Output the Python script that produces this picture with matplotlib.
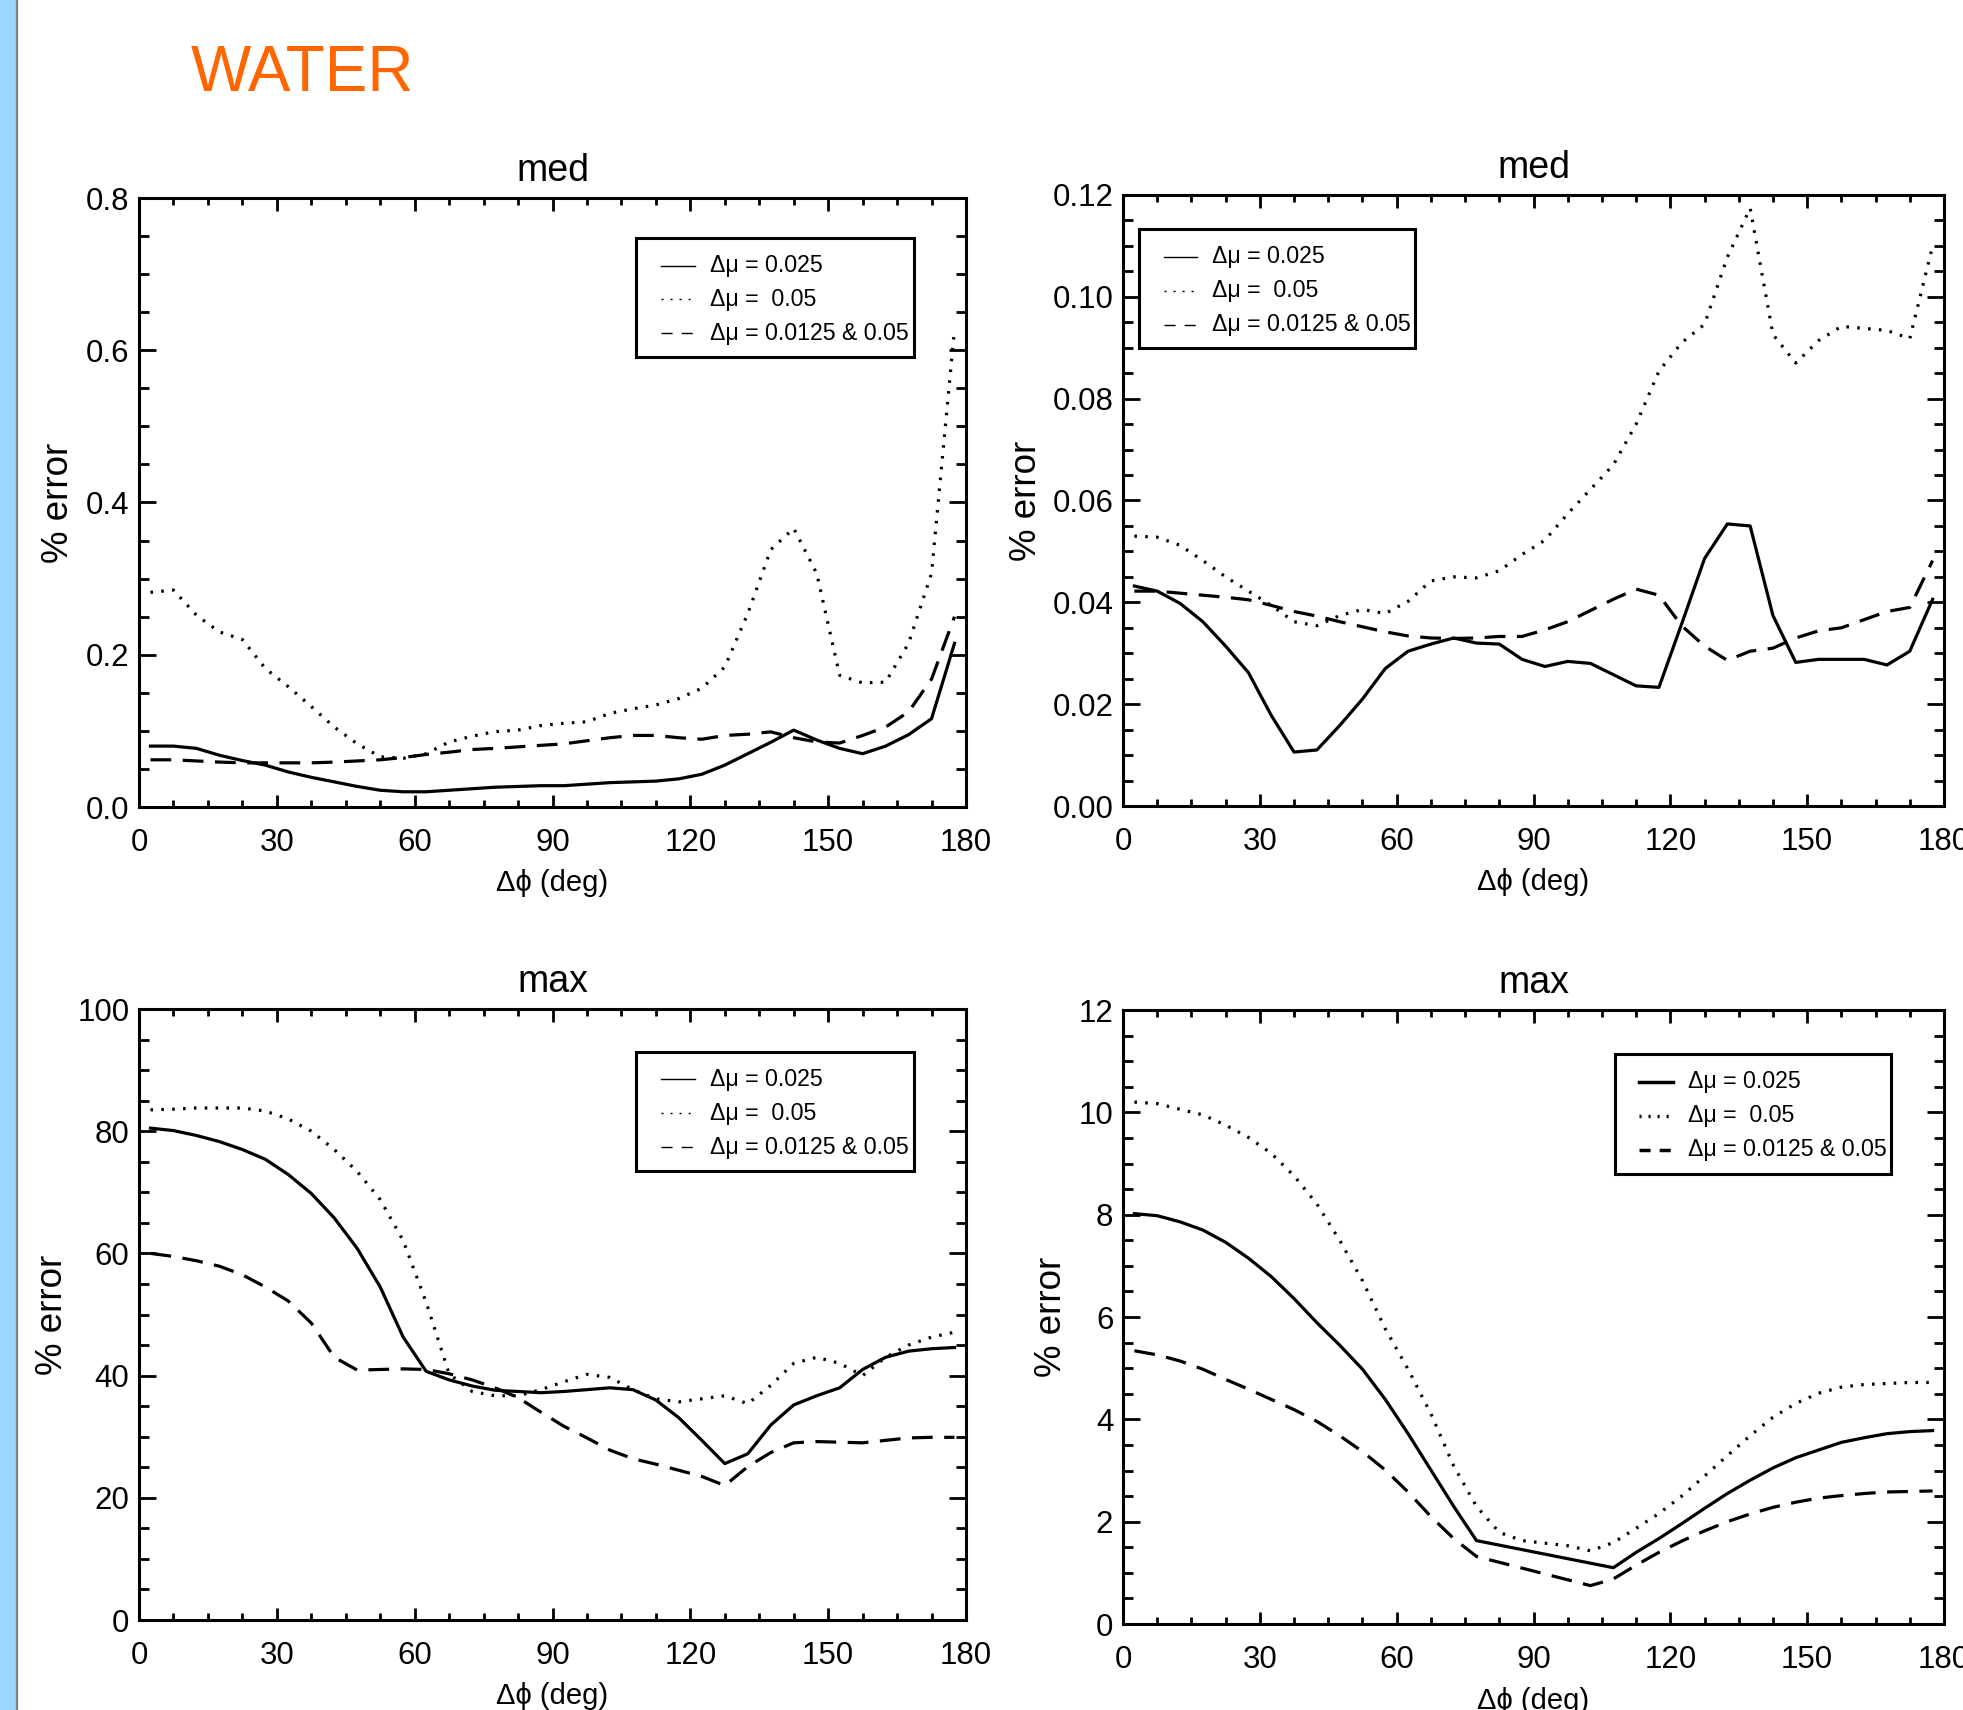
import matplotlib
matplotlib.use("Agg")
import matplotlib.pyplot as plt
from matplotlib.patches import Rectangle
from matplotlib.lines import Line2D
from matplotlib.ticker import MultipleLocator, FormatStrFormatter

SANS = ['Liberation Sans', 'DejaVu Sans']

# === DATA ===
# azimuth bin centres (deg)
phi = [2.5, 7.5, 12.5, 17.5, 22.5, 27.5, 32.5, 37.5, 42.5, 47.5, 52.5, 57.5,
       62.5, 67.5, 72.5, 77.5, 82.5, 87.5, 92.5, 97.5, 102.5, 107.5, 112.5, 117.5,
       122.5, 127.5, 132.5, 137.5, 142.5, 147.5, 152.5, 157.5, 162.5, 167.5, 172.5, 177.5]

#median error, left panel
med_a_025 = [0.080, 0.080, 0.077, 0.068, 0.061, 0.055, 0.046, 0.039, 0.033, 0.027, 0.022, 0.020,
             0.020, 0.022, 0.024, 0.026, 0.027, 0.028, 0.028, 0.030, 0.032, 0.033, 0.034, 0.037,
             0.043, 0.055, 0.070, 0.085, 0.101, 0.088, 0.077, 0.070, 0.080, 0.095, 0.116, 0.215]
med_a_05 = [0.282, 0.285, 0.252, 0.230, 0.220, 0.182, 0.158, 0.132, 0.105, 0.083, 0.066, 0.064,
            0.070, 0.0855, 0.093, 0.099, 0.101, 0.107, 0.110, 0.112, 0.123, 0.129, 0.134, 0.1425,
            0.156, 0.184, 0.254, 0.338, 0.366, 0.307, 0.173, 0.163, 0.164, 0.215, 0.307, 0.628]
med_a_mix = [0.062, 0.062, 0.0605, 0.059, 0.058, 0.058, 0.058, 0.058, 0.059, 0.0605, 0.062, 0.065,
             0.069, 0.072, 0.0755, 0.077, 0.079, 0.081, 0.083, 0.087, 0.091, 0.094, 0.094, 0.091,
             0.089, 0.094, 0.0956, 0.0987, 0.091, 0.0855, 0.084, 0.094, 0.105, 0.125, 0.168, 0.250]

#median error, right panel
med_b_025 = [0.0432, 0.0422, 0.0398, 0.0362, 0.0314, 0.0262, 0.0178, 0.0106, 0.0110, 0.0158, 0.0210, 0.0270,
             0.0304, 0.0318, 0.0330, 0.0320, 0.0318, 0.0288, 0.0274, 0.0284, 0.0280, 0.0258, 0.0236, 0.0233,
             0.0358, 0.0486, 0.0554, 0.0550, 0.0374, 0.0282, 0.0288, 0.0288, 0.0288, 0.0277, 0.0304, 0.0406]
med_b_05 = [0.0530, 0.0528, 0.0512, 0.0482, 0.0450, 0.0422, 0.0394, 0.0362, 0.0354, 0.0374, 0.0386, 0.0378,
            0.0402, 0.0442, 0.0450, 0.0448, 0.0462, 0.0494, 0.0522, 0.0574, 0.0622, 0.0670, 0.0750, 0.0854,
            0.0910, 0.0946, 0.1078, 0.1174, 0.0926, 0.0870, 0.0914, 0.0942, 0.0938, 0.0934, 0.0918, 0.1100]
med_b_mix = [0.0422, 0.0422, 0.0418, 0.0414, 0.0410, 0.0405, 0.0394, 0.0382, 0.0373, 0.0362, 0.0352, 0.0342,
             0.0334, 0.0330, 0.0329, 0.0330, 0.0333, 0.0333, 0.0346, 0.0362, 0.0384, 0.0406, 0.0426, 0.0414,
             0.0354, 0.0314, 0.0286, 0.0304, 0.0310, 0.0330, 0.0344, 0.0350, 0.0366, 0.0382, 0.0390, 0.0482]

#max error, left panel
max_a_025 = [80.5, 80.1, 79.3, 78.3, 77.0, 75.4, 72.9, 69.8, 65.8, 60.8, 54.5, 46.3,
             40.7, 39.3, 38.3, 37.6, 37.4, 37.2, 37.4, 37.7, 38.0, 37.7, 36.0, 33.1,
             29.4, 25.6, 27.2, 31.9, 35.2, 36.7, 38.0, 41.0, 43.0, 44.0, 44.4, 44.6]
max_a_05 = [83.5, 83.6, 83.8, 83.8, 83.8, 83.3, 82.0, 80.0, 77.0, 73.4, 68.8, 62.1,
            52.0, 40.3, 37.4, 36.7, 36.7, 37.7, 39.0, 40.2, 39.7, 37.7, 36.2, 35.7,
            36.2, 36.7, 35.4, 38.4, 42.0, 43.0, 42.0, 40.0, 43.0, 45.0, 46.3, 47.1]
max_a_mix = [60.0, 59.5, 58.8, 57.9, 56.5, 54.5, 52.2, 48.6, 43.0, 40.9, 41.0, 41.1,
             41.0, 40.3, 39.3, 38.0, 36.4, 34.0, 31.7, 29.8, 27.8, 26.4, 25.5, 24.5,
             23.5, 22.0, 25.1, 27.4, 29.0, 29.2, 29.1, 29.0, 29.4, 29.8, 29.9, 29.9]

#max error, right panel (solid and dashed have no bins in the middle)
phi_b_025 = [2.5, 7.5, 12.5, 17.5, 22.5, 27.5, 32.5, 37.5, 42.5, 47.5, 52.5, 57.5,
             62.5, 67.5, 72.5, 77.5, 107.5, 112.5, 117.5, 122.5, 127.5, 132.5, 137.5,
             142.5, 147.5, 152.5, 157.5, 162.5, 167.5, 172.5, 177.5]
max_b_025 = [8.02, 7.98, 7.86, 7.70, 7.46, 7.15, 6.79, 6.36, 5.89, 5.45, 4.98, 4.39,
             3.72, 3.01, 2.30, 1.63, 1.10, 1.40, 1.67, 1.96, 2.26, 2.55, 2.81,
             3.05, 3.25, 3.40, 3.55, 3.64, 3.72, 3.76, 3.78]
max_b_05 = [10.20, 10.17, 10.06, 9.95, 9.75, 9.51, 9.20, 8.76, 8.21, 7.50, 6.71, 5.77,
            4.98, 4.11, 3.09, 2.30, 1.79, 1.63, 1.58, 1.53, 1.43, 1.59, 1.87, 2.16,
            2.50, 2.89, 3.29, 3.68, 4.04, 4.31, 4.51, 4.63, 4.68, 4.70, 4.72, 4.72]
phi_b_mix = [2.5, 7.5, 12.5, 17.5, 22.5, 27.5, 32.5, 37.5, 42.5, 47.5, 52.5, 57.5,
             62.5, 67.5, 72.5, 77.5, 102.5, 107.5, 112.5, 117.5, 122.5, 127.5, 132.5,
             137.5, 142.5, 147.5, 152.5, 157.5, 162.5, 167.5, 172.5, 177.5]
max_b_mix = [5.34, 5.26, 5.14, 4.98, 4.78, 4.59, 4.39, 4.19, 3.96, 3.68, 3.37, 3.01,
             2.58, 2.10, 1.67, 1.32, 0.75, 0.88, 1.15, 1.40, 1.62, 1.82, 2.00,
             2.15, 2.28, 2.38, 2.46, 2.51, 2.55, 2.58, 2.59, 2.60]

key_labels = ['\u0394\u03bc = 0.025', '\u0394\u03bc =  0.05', '\u0394\u03bc = 0.0125 & 0.05']

# === FIGURE ===
W, H = 1963, 1710
fig = plt.figure(figsize=(W / 100, H / 100), dpi=100)

# slide margin on the left
fig.patches.append(Rectangle((0, 0), 16 / W, 1, transform=fig.transFigure,
                             color='#9AD8FC', zorder=0))
fig.add_artist(Line2D([17 / W, 17 / W], [0, 1], transform=fig.transFigure,
                      color='#808080', lw=1.6))
fig.text(191 / W, 1 - 91 / H, 'WATER', color='#FF6600', fontsize=46,
         family=SANS, va='baseline', ha='left')

LW = 2.3
DOT = (0, (0.8, 2.6))
DASH = (0, (6.5, 3.6))


def make_axes(x0, y0, x1, y1):
    return fig.add_axes([x0 / W, (H - y1) / H, (x1 - x0) / W, (y1 - y0) / H])


def style_axes(ax, ymax, ymajor, yminor, fmt, title, ylab_x):
    ax.set_xlim(0, 180)
    ax.set_ylim(0, ymax)
    ax.xaxis.set_major_locator(MultipleLocator(30))
    ax.xaxis.set_minor_locator(MultipleLocator(7.5))
    ax.yaxis.set_major_locator(MultipleLocator(ymajor))
    ax.yaxis.set_minor_locator(MultipleLocator(yminor))
    ax.yaxis.set_major_formatter(FormatStrFormatter(fmt))
    for s in ax.spines.values():
        s.set_linewidth(2.2)
    ax.tick_params(which='both', direction='in', top=True, right=True, width=2.0)
    ax.tick_params(axis='x', which='major', length=9, pad=15)
    ax.tick_params(axis='x', which='minor', length=5)
    ax.tick_params(axis='y', which='major', length=12, pad=7)
    ax.tick_params(axis='y', which='minor', length=7)
    for lab in ax.get_xticklabels() + ax.get_yticklabels():
        lab.set_family(SANS)
        lab.set_fontsize(22.5)
    ax.text(0.5, 1.028, title, transform=ax.transAxes, ha='center', va='baseline',
            fontsize=27, family=SANS)
    ax.text(0.5, -0.125, '\u0394\u03d5 (deg)', transform=ax.transAxes, ha='center',
            va='center', fontsize=21, family=SANS)
    ax.text(ylab_x, 0.5, '% error', transform=ax.transAxes, ha='center', va='center',
            rotation=90, fontsize=26.5, family=SANS)


def draw_key(ax, left, top, lw):
    bw, bh = 0.336, 0.195
    ax.add_patch(Rectangle((left, top - bh), bw, bh, transform=ax.transAxes,
                           fill=False, lw=2.2, ec='black', zorder=5))
    styles = ['-', (0, (1.5 / lw, 5.0 / lw)), (0, (8.0 / lw, 6.5 / lw))]
    for k, (ls, lab) in enumerate(zip(styles, key_labels)):
        yy = top - 0.045 - 0.0555 * k
        ax.add_line(Line2D([left + 0.030, left + 0.071], [yy, yy], transform=ax.transAxes,
                           color='black', lw=lw, linestyle=ls, zorder=6))
        ax.text(left + 0.089, yy, lab, transform=ax.transAxes, ha='left', va='center',
                fontsize=16.7, family=SANS, zorder=6)


def draw_three(ax, xs, ys):
    for x, y, ls in zip(xs, ys, ['-', DOT, DASH]):
        ax.plot(x, y, color='black', lw=LW, linestyle=ls)


# median error, left
ax1 = make_axes(139, 198, 966, 807)
draw_three(ax1, [phi, phi, phi], [med_a_025, med_a_05, med_a_mix])
style_axes(ax1, 0.8, 0.2, 0.05, '%.1f', 'med', -0.097)
draw_key(ax1, 0.601, 0.934, 1.0)

# median error, right
ax2 = make_axes(1123, 195, 1944, 806)
draw_three(ax2, [phi, phi, phi], [med_b_025, med_b_05, med_b_mix])
style_axes(ax2, 0.12, 0.02, 0.005, '%.2f', 'med', -0.117)
draw_key(ax2, 0.0195, 0.944, 1.0)

# max error, left
ax3 = make_axes(139, 1009, 966, 1620)
draw_three(ax3, [phi, phi, phi], [max_a_025, max_a_05, max_a_mix])
style_axes(ax3, 100, 20, 5, '%d', 'max', -0.104)
draw_key(ax3, 0.601, 0.930, 1.0)

# max error, right
ax4 = make_axes(1123, 1010, 1944, 1624)
draw_three(ax4, [phi_b_025, phi, phi_b_mix], [max_b_025, max_b_05, max_b_mix])
style_axes(ax4, 12, 2, 0.5, '%d', 'max', -0.087)
draw_key(ax4, 0.599, 0.928, 2.5)

fig.savefig('out.png', dpi=100)
